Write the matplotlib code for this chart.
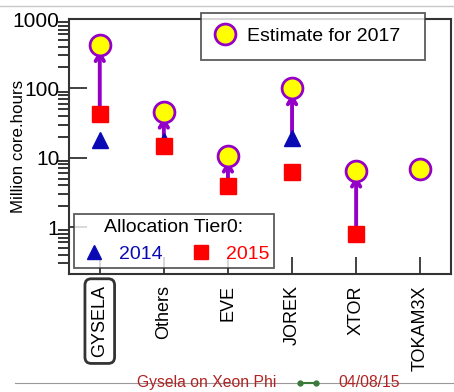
import numpy as np
import matplotlib
matplotlib.use("Agg")
import matplotlib.pyplot as plt
from matplotlib.lines import Line2D

plt.rcParams['font.family'] = ['Liberation Sans', 'DejaVu Sans']

codes = ["GYSELA", "Others", "EVE", "JOREK", "XTOR", "TOKAM3X"]
alloc_2014 = [18, 17.5, np.nan, 19, np.nan, np.nan]
alloc_2015 = [43, 14.5, 3.9, 6.3, 0.8, np.nan]
estimate_2017 = [420, 46, 10.7, 100, 6.5, 6.9]

PURPLE = "#9400c8"
x = np.arange(len(codes))

fig = plt.figure(figsize=(4.54, 3.92), dpi=100)
ax = fig.add_axes([69 / 454, 1 - 274 / 392, (451 - 69) / 454, (274 - 19) / 392])

# fleches 2014/2015 -> 2017 (depuis la plus grande allocation)
for i in range(len(codes)):
    vals = [v for v in (alloc_2014[i], alloc_2015[i]) if not np.isnan(v)]
    if not vals:
        continue
    ax.annotate("", xy=(x[i], estimate_2017[i] * 0.84), xytext=(x[i], max(vals)),
                arrowprops=dict(arrowstyle="->,head_length=0.5,head_width=0.3",
                                color=PURPLE, lw=2.8, shrinkA=0, shrinkB=0), zorder=2)

ax.plot(x, alloc_2014, "^", color="#0a0ab4", ms=11, ls="none", zorder=3)
ax.plot(x, alloc_2015, "s", color="#ff0000", ms=11, ls="none", zorder=3)
ax.plot(x, estimate_2017, "o", mfc="#ffff00", mec=PURPLE, mew=2, ms=15, ls="none", zorder=4)

ax.set_yscale("log")
ax.set_ylim(0.21, 1000)
ax.set_xlim(-0.48, 5.48)
ax.set_yticks([1, 10, 100, 1000])
ax.set_yticklabels(["1", "10", "100", "1000"], fontsize=15)
ax.set_xticks(x)
ax.set_xticklabels(codes, rotation=90, fontsize=13)
ax.tick_params(axis="both", direction="in", color="#333333", width=1.3)
ax.tick_params(axis="y", which="major", length=13)
ax.tick_params(axis="y", which="minor", length=8, width=1.1)
ax.tick_params(axis="x", length=12, pad=8)
ax.tick_params(axis="y", pad=7)
for s in ax.spines.values():
    s.set_color("#333333")
    s.set_linewidth(1.5)
ax.set_ylabel("Million core.hours", fontsize=12.2)
ax.yaxis.set_label_coords(-0.112, 0.5)

lbl = ax.get_xticklabels()[0]
lbl.set_bbox(dict(boxstyle="round,pad=0.35", fc="white", ec="#333333", lw=2))

# legende 2017
leg1 = ax.legend([Line2D([], [], marker="o", mfc="#ffff00", mec=PURPLE, mew=2, ms=15, ls="none")],
                 ["Estimate for 2017  "], loc="upper left", bbox_to_anchor=(201 / 454, 1 - 13 / 392),
                 bbox_transform=fig.transFigure, fontsize=14, frameon=True, fancybox=False,
                 edgecolor="#333333", handlelength=1.0, handletextpad=0.6, borderpad=0.75,
                 borderaxespad=0)
leg1.get_frame().set_linewidth(1.3)
leg1.set_zorder(5)
ax.add_artist(leg1)

# legende allocations
leg2 = ax.legend([Line2D([], [], marker="^", color="#0a0ab4", ms=10, ls="none"),
                  Line2D([], [], marker="s", color="#ff0000", ms=10, ls="none")],
                 ["2014", "2015"], title="Allocation Tier0:", ncol=2,
                 loc="lower left", bbox_to_anchor=(74 / 454, 1 - 268 / 392),
                 bbox_transform=fig.transFigure, fontsize=14, title_fontsize=14,
                 frameon=True, fancybox=False, edgecolor="#333333",
                 handlelength=1.6, handletextpad=0.45, columnspacing=1.2,
                 borderpad=0.25, borderaxespad=0)
leg2.get_frame().set_linewidth(1.3)
leg2.set_zorder(5)
for t, c in zip(leg2.get_texts(), ["#0a0ab4", "#ff0000"]):
    t.set_color(c)

# pied de page
fig.add_artist(Line2D([0, 1], [1 - 6 / 392] * 2, color="#c8c8c8", lw=1))
fig.add_artist(Line2D([15 / 454, 1], [1 - 383 / 392] * 2, color="#999999", lw=0.8))
fig.text(137 / 454, 1 - 387 / 392, "Gysela on Xeon Phi", color="#b22222", fontsize=11.3, va="baseline")
fig.add_artist(Line2D([300 / 454, 316 / 454], [1 - 383 / 392] * 2, color="#3a7a3a", lw=1.5,
                      marker="o", ms=3.5))
fig.text(338 / 454, 1 - 387 / 392, "04/08/15", color="#b22222", fontsize=11.3, va="baseline")

fig.savefig("out.png", dpi=100)
